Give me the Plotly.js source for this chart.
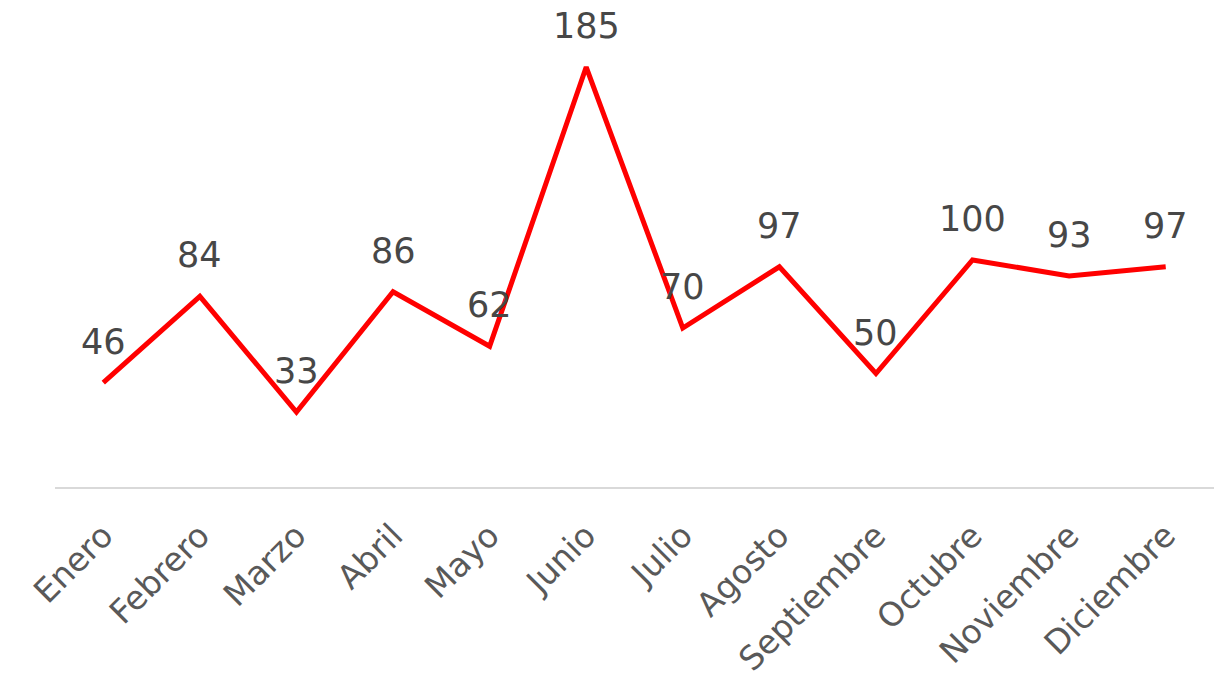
<!DOCTYPE html>
<html>
<head>
<meta charset="utf-8">
<script src="https://cdn.plot.ly/plotly-3.0.1.min.js"></script>
<style>
html,body{margin:0;padding:0;background:#ffffff;}
#chart{width:1214px;height:685px;}
</style>
</head>
<body>
<div id="chart"></div>
<script>
const months = ["Enero","Febrero","Marzo","Abril","Mayo","Junio","Julio","Agosto","Septiembre","Octubre","Noviembre","Diciembre"];
const values = [46,84,33,86,62,185,70,97,50,100,93,97];

const FONT = "DejaVu Sans";

const trace = {
  type: "scatter",
  mode: "lines",
  x: months,
  y: values,
  line: {color: "#ff0000", width: 5},
  hoverinfo: "x+y"
};

const annotations = months.map((m, i) => ({
  x: m,
  y: values[i],
  xref: "x",
  yref: "y",
  text: String(values[i]),
  showarrow: false,
  yanchor: "middle",
  xanchor: "center",
  yshift: 41,
  font: {family: FONT, size: 35, color: "#474747"}
}));

const layout = {
  width: 1214,
  height: 685,
  margin: {l: 55, r: 0, t: 33, b: 198},
  paper_bgcolor: "#ffffff",
  plot_bgcolor: "rgba(0,0,0,0)",
  showlegend: false,
  font: {family: FONT, color: "#595959"},
  xaxis: {
    type: "category",
    range: [-0.5, 11.5],
    tickangle: -45,
    tickfont: {family: FONT, size: 33, color: "#595959"},
    ticklabelstandoff: 14,
    showgrid: false,
    zeroline: false,
    showline: true,
    linecolor: "#d9d9d9",
    linewidth: 2,
    ticks: "",
    ticklen: 0
  },
  yaxis: {
    range: [0, 200],
    showgrid: false,
    zeroline: false,
    showline: false,
    showticklabels: false,
    ticks: ""
  },
  annotations: annotations
};

Plotly.newPlot("chart", [trace], layout, {displayModeBar: false, staticPlot: true});
</script>
</body>
</html>
